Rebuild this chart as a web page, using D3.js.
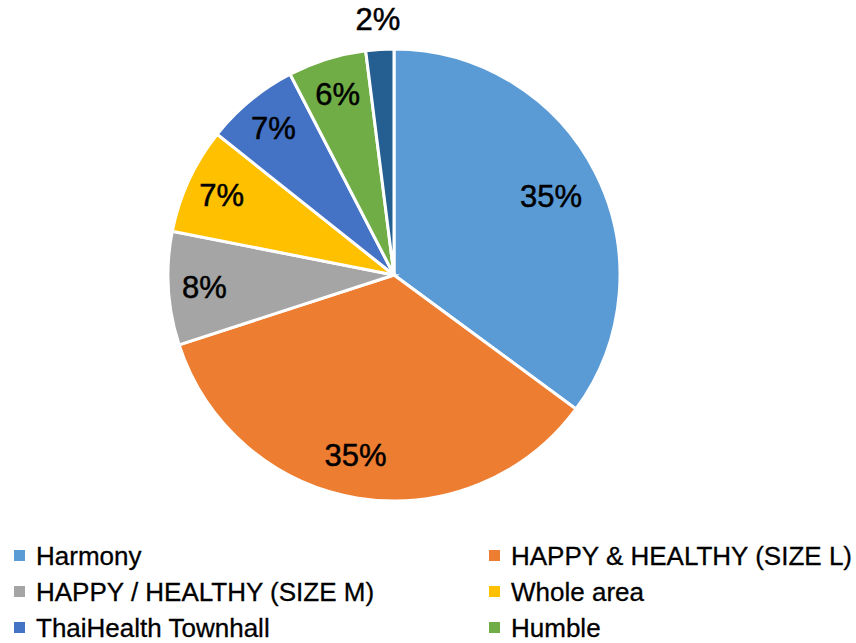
<!DOCTYPE html>
<html><head><meta charset="utf-8">
<script src="https://cdn.jsdelivr.net/npm/d3@7"></script>
<style>body{margin:0;background:#fff}svg{display:block}</style>
</head><body>
<svg id="chart" width="856" height="643"></svg>
<script>
const categories = ["Harmony","HAPPY & HEALTHY (SIZE L)","HAPPY / HEALTHY (SIZE M)","Whole area","ThaiHealth Townhall","Humble","Other"];
const values = [35.1, 34.9, 8.1, 7.6, 6.7, 5.6, 2.0];
const labels = ["35%","35%","8%","7%","7%","6%","2%"];
const colors = ["#5b9bd5","#ed7d31","#a5a5a5","#ffc000","#4472c4","#70ad47","#255e91"];
const legendCount = 6;

const svg = d3.select("#chart");
const cx = 394, cy = 275, r = 226;
const g = svg.append("g").attr("transform", `translate(${cx},${cy})`);
const pie = d3.pie().sort(null).value(d => d)(values);
const arc = d3.arc().innerRadius(0).outerRadius(r);
g.selectAll("path").data(pie).join("path")
  .attr("d", arc).attr("fill", (d,i) => colors[i])
  .attr("stroke", "#fff").attr("stroke-width", 3).attr("stroke-linejoin","miter");

g.selectAll("text.lbl").data(pie).join("text").attr("class","lbl")
  .attr("transform", (d,i) => {
    let a = (d.startAngle + d.endAngle)/2;
    if (i === 1) a += 0.05;
    const lr = i === values.length-1 ? 257 : (i === 0 ? 176 : (i === 1 ? 184 : 190));
    return `translate(${lr*Math.sin(a)},${-lr*Math.cos(a)})`;
  })
  .attr("text-anchor","middle").attr("dy","0.36em")
  .attr("font-family","Liberation Sans, Arial, sans-serif").attr("font-size",31)
  .attr("fill","#000").attr("stroke","#000").attr("stroke-width",0.5)
  .text((d,i) => labels[i]);

const leg = svg.append("g");
const cols = [14, 489];
const rows = [565, 601, 637];
categories.slice(0, legendCount).forEach((c,i) => {
  const x = cols[i%2], y = rows[Math.floor(i/2)];
  leg.append("rect").attr("x", x).attr("y", y-15).attr("width", 11).attr("height", 11).attr("fill", colors[i]);
  leg.append("text").attr("x", x+22).attr("y", y)
    .attr("font-family","Liberation Sans, Arial, sans-serif").attr("font-size",26)
    .attr("fill","#000").attr("stroke","#000").attr("stroke-width",0.3)
    .text(c);
});
</script>
</body></html>
